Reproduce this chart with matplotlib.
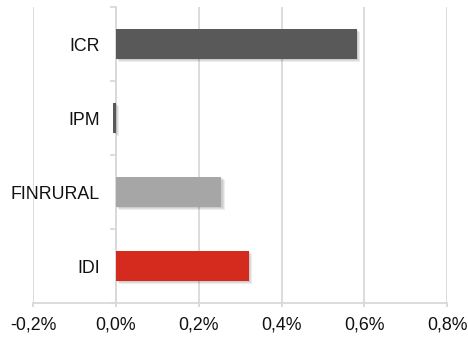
import numpy as np
import matplotlib
matplotlib.use("Agg")
import matplotlib.pyplot as plt
import matplotlib.patheffects as pe
from matplotlib.ticker import FixedLocator, FuncFormatter

# Valeurs (en %)
categories = ["ICR", "IPM", "FINRURAL", "IDI"]
values = [0.582, -0.006, 0.255, 0.321]
bar_colors = ["#595959", "#595959", "#a6a6a6", "#d52b1e"]
x_ticks = [-0.2, 0.0, 0.2, 0.4, 0.6, 0.8]

plt.rcParams["font.family"] = ["Liberation Sans", "DejaVu Sans"]

fig = plt.figure(figsize=(4.68, 3.39), dpi=100)
ax = fig.add_axes([0.0705, 0.106, 0.885, 0.873])

y = np.arange(len(categories))[::-1]
bars = ax.barh(y, values, height=0.405, color=bar_colors, zorder=3)
# ombre douce : plusieurs couches légères
shadow = [pe.SimplePatchShadow(offset=(d, -d), alpha=0.07, shadow_rgbFace="k")
          for d in (0.8, 1.6, 2.4)]
for b in bars:
    b.set_path_effects(shadow + [pe.Normal()])

ax.set_xlim(-0.2, 0.8)
ax.set_ylim(-0.5, len(categories) - 0.5)

grid_col = "#d9d9d9"
ax.set_xticks(x_ticks)
ax.xaxis.set_major_formatter(FuncFormatter(lambda v, p: f"{v:.1f}%".replace(".", ",")))
ax.grid(axis="x", color=grid_col, linewidth=1.3, zorder=0)

# axe des catégories placé sur 0
ax.spines["left"].set_position(("data", 0))
ax.spines["left"].set_color(grid_col)
ax.spines["left"].set_linewidth(1.3)
ax.spines["left"].set_zorder(2)
ax.spines["bottom"].set_color(grid_col)
ax.spines["bottom"].set_linewidth(1.3)
for s in ["top", "right"]:
    ax.spines[s].set_visible(False)

ax.yaxis.set_major_locator(FixedLocator(np.arange(-0.5, len(categories), 1.0)))
ax.yaxis.set_major_formatter(FuncFormatter(lambda v, p: ""))
ax.yaxis.set_minor_locator(FixedLocator(y))
ax.set_yticklabels(categories, minor=True)
ax.tick_params(axis="y", which="major", length=4, color=grid_col, width=1.3)
ax.tick_params(axis="y", which="minor", length=0, pad=11.5, labelsize=12.8, labelcolor="#111111")
ax.tick_params(axis="x", length=3, color=grid_col, width=1.3, pad=7, labelsize=12.8, labelcolor="#111111")

fig.savefig("out.png", dpi=100)
